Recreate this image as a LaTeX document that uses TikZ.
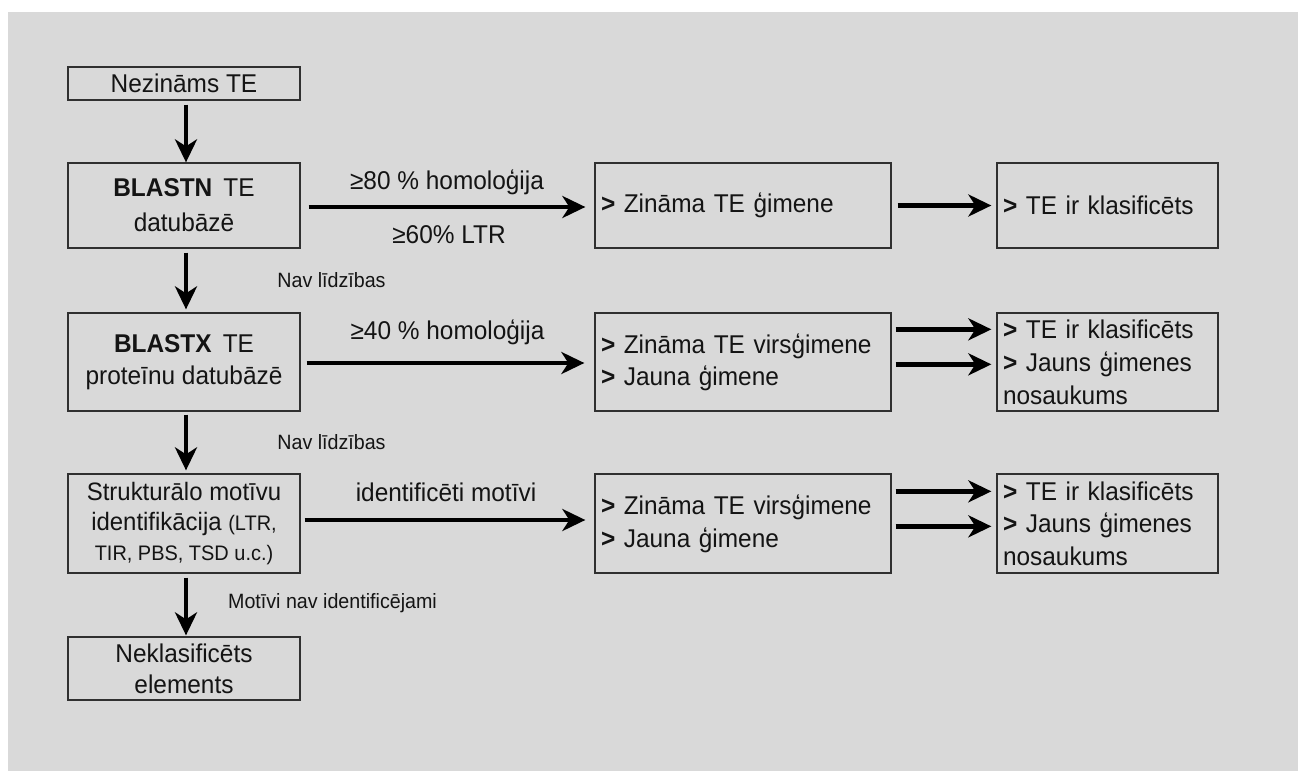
\documentclass[tikz,border=0pt]{standalone}
\usepackage{fontspec}
\setmainfont[FakeStretch=0.95]{Liberation Sans}
\usetikzlibrary{arrows.meta}
\definecolor{bg}{HTML}{D9D9D9}
\definecolor{edge}{HTML}{303030}
\definecolor{ink}{HTML}{141414}

\tikzset{
  box/.style={draw=edge, line width=1.3pt, rectangle, inner ysep=0pt, inner xsep=6pt,
              text=ink, font=\fontsize{25.7}{33}\selectfont},
  cbox/.style={box, align=center},
  lbox/.style={box, align=left},
  arr/.style={line width=4.3pt, -{Stealth[length=23pt,width=22pt,inset=7pt]}},
  lab/.style={text=ink, font=\fontsize{25.7}{30}\selectfont, inner sep=0pt},
  note/.style={text=ink, font=\fontsize{20.7}{24}\selectfont, inner sep=0pt},
}
\newcommand{\gt}{\textbf{>}}

\begin{document}
\begin{tikzpicture}[x=1pt, y=-1pt]
  \useasboundingbox (0,0) rectangle (1298,771);
  \fill[white] (0,0) rectangle (1298,771);
  \fill[bg] (8,12) rectangle (1298,771);

  % left column: search steps
  \node[cbox, minimum width=232pt, minimum height=33pt] (n0) at (184,83.5) {Nezināms TE};
  \node[cbox, minimum width=232pt, minimum height=85pt, font=\fontsize{25.7}{35}\selectfont] (blastn) at (184,205.5)
    {\textbf{BLASTN}\, TE\\datubāzē};
  \node[cbox, minimum width=232pt, minimum height=98pt, font=\fontsize{25.7}{32}\selectfont] (blastx) at (184,362)
    {\textbf{BLASTX}\, TE\\proteīnu datubāzē};
  \node[cbox, minimum width=232pt, minimum height=99pt, font=\fontsize{25.2}{30}\selectfont] (struk) at (184,523.5)
    {Strukturālo motīvu\\identifikācija {\fontsize{21}{24}\selectfont(LTR,}\\{\fontsize{21}{24}\selectfont TIR, PBS, TSD u.c.)}};
  \node[cbox, minimum width=232pt, minimum height=63pt, font=\fontsize{25.7}{31}\selectfont] (nekl) at (184,668.5)
    {Neklasificēts\\elements};

  % middle column: family assignment
  \node[lbox, text width=284pt, minimum height=85pt] (mid1) at (743,205.5)
    {\gt{} Zināma TE ģimene};
  \node[lbox, text width=284pt, minimum height=98pt, font=\fontsize{25.7}{32}\selectfont] (mid2) at (743,362)
    {\gt{} Zināma TE virsģimene\\\gt{} Jauna ģimene};
  \node[lbox, text width=284pt, minimum height=99pt, font=\fontsize{25.7}{33}\selectfont] (mid3) at (743,523.5)
    {\gt{} Zināma TE virsģimene\\\gt{} Jauna ģimene};

  % right column: outcome
  \node[lbox, text width=209pt, minimum height=85pt] (r1) at (1107.5,205.5)
    {\gt{} TE ir klasificēts};
  \node[lbox, text width=209pt, minimum height=98pt] (r2) at (1107.5,362)
    {\gt{} TE ir klasificēts\\\gt{} Jauns ģimenes\\nosaukums};
  \node[lbox, text width=209pt, minimum height=99pt, font=\fontsize{25.7}{32.5}\selectfont] (r3) at (1107.5,523.5)
    {\gt{} TE ir klasificēts\\\gt{} Jauns ģimenes\\nosaukums};

  % edge labels
  \node[lab] (l80) at (447,182) {≥80 \% homoloģija};
  \node[lab] (l60) at (449,235) {≥60\% LTR};
  \node[lab] (l40) at (447.5,332) {≥40 \% homoloģija};
  \node[lab] (lmot) at (446,492) {identificēti motīvi};
  \node[note] (nav1) at (331.5,280) {Nav līdzības};
  \node[note] (nav2) at (331.5,442) {Nav līdzības};
  \node[note] (nomot) at (332.5,603) {Motīvi nav identificējami};

  % vertical flow
  \draw[arr, shorten <=4pt] ([xshift=2pt]n0.south) -- ([xshift=2pt]blastn.north);
  \draw[arr, shorten <=4pt, shorten >=3pt] ([xshift=2pt]blastn.south) -- ([xshift=2pt]blastx.north);
  \draw[arr, shorten <=3pt, shorten >=3pt] ([xshift=2pt]blastx.south) -- ([xshift=2pt]struk.north);
  \draw[arr, shorten <=4pt, shorten >=1pt] ([xshift=2pt]struk.south) -- ([xshift=2pt]nekl.north);

  % horizontal flow
  \draw[arr, shorten <=8pt, shorten >=9pt] ([yshift=-1.5pt]blastn.east) -- ([yshift=-1.5pt]mid1.west);
  \draw[arr, shorten <=6pt, shorten >=10pt] ([yshift=-1pt]blastx.east) -- ([yshift=-1pt]mid2.west);
  \draw[arr, shorten <=4pt, shorten >=9pt] ([yshift=3.5pt]struk.east) -- ([yshift=3.5pt]mid3.west);

  \draw[arr, shorten <=6pt, shorten >=5pt] (mid1.east) -- (r1.west);
  \draw[arr, shorten <=4pt, shorten >=5pt] ([yshift=-17pt]mid2.north east) -- ([yshift=-17pt]r2.north west);
  \draw[arr, shorten <=4pt, shorten >=5pt] ([yshift=-52pt]mid2.north east) -- ([yshift=-52pt]r2.north west);
  \draw[arr, shorten <=4pt, shorten >=5pt] ([yshift=-18pt]mid3.north east) -- ([yshift=-18pt]r3.north west);
  \draw[arr, shorten <=4pt, shorten >=5pt] ([yshift=-53pt]mid3.north east) -- ([yshift=-53pt]r3.north west);
\end{tikzpicture}
\end{document}
